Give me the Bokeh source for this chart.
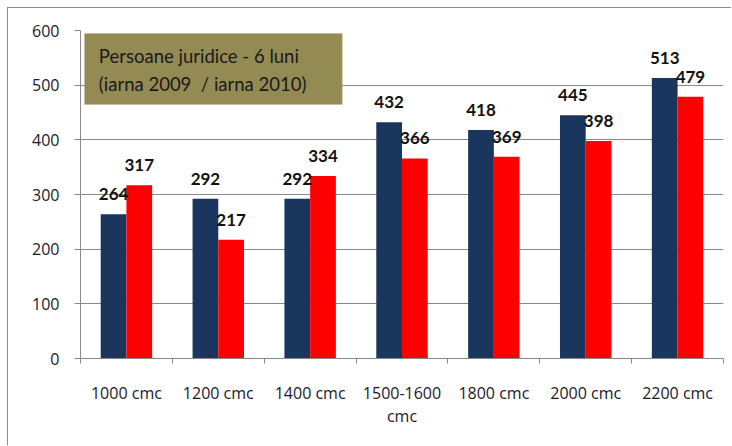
import numpy as np
from bokeh.plotting import figure
from bokeh.models import (ColumnDataSource, Range1d, FixedTicker, BoxAnnotation, Label)
from bokeh.core.properties import value
from bokeh.embed import file_html
from bokeh.resources import INLINE

categories = ["1000 cmc", "1200 cmc", "1400 cmc", "1500-1600\ncmc", "1800 cmc", "2000 cmc", "2200 cmc"]
iarna_2009 = [264, 292, 292, 432, 418, 445, 513]
iarna_2010 = [317, 217, 334, 366, 369, 398, 479]
y_ticks = [0, 100, 200, 300, 400, 500, 600]
title_lines = ["Persoane juridice - 6 luni", "(iarna 2009\u00a0\u00a0/ iarna 2010)"]

FONT = "Lato"
TICK_FONT = "Open Sans"
NAVY = "#1B365D"
RED = "#FF0000"
GRID = "#898989"

centers = np.arange(len(categories)) + 0.5
bw = 0.28
src = ColumnDataSource(dict(
    x1=centers - bw / 2, x2=centers + bw / 2,
    v1=iarna_2009, v2=iarna_2010,
    t1=[str(v) for v in iarna_2009], t2=[str(v) for v in iarna_2010],
))

p = figure(width=724, height=438, output_backend="svg", toolbar_location=None,
           x_range=Range1d(0, len(categories)), y_range=Range1d(0, 600),
           min_border_left=72, min_border_right=9, min_border_top=22, min_border_bottom=88)
p.styles = {"margin-left": "7px", "margin-top": "7px",
            "border-left": "1px solid #8c8c8c", "border-top": "1px solid #8c8c8c"}
p.outline_line_color = None
p.background_fill_color = "white"
p.border_fill_color = "white"

p.vbar(x="x1", top="v1", width=bw, source=src, fill_color=NAVY, line_color=None)
p.vbar(x="x2", top="v2", width=bw, source=src, fill_color=RED, line_color=None)

p.text(x="x1", y="v1", text="t1", source=src, text_font=value(FONT), text_font_style="bold",
       text_font_size="17px", text_align="center", text_baseline="middle", y_offset=-20,
       text_color="#111111")
p.text(x="x2", y="v2", text="t2", source=src, text_font=value(FONT), text_font_style="bold",
       text_font_size="17px", text_align="center", text_baseline="middle", y_offset=-20,
       text_color="#111111")

# axes
p.xgrid.visible = False
p.ygrid.grid_line_color = GRID
p.ygrid.grid_line_width = 1
p.yaxis.ticker = FixedTicker(ticks=y_ticks)
p.yaxis.axis_line_color = GRID
p.yaxis.major_tick_line_color = GRID
p.yaxis.major_tick_out = 6
p.yaxis.major_tick_in = 0
p.yaxis.minor_tick_line_color = None
p.yaxis.major_label_standoff = 15
p.yaxis.major_label_text_font = TICK_FONT
p.yaxis.major_label_text_font_size = "16px"
p.yaxis.major_label_text_color = "#1a1a2a"

p.xaxis.ticker = FixedTicker(ticks=list(centers), minor_ticks=list(range(len(categories) + 1)))
p.xaxis.major_label_overrides = {float(c): lab for c, lab in zip(centers, categories)}
p.xaxis.axis_line_color = GRID
p.xaxis.major_tick_line_color = None
p.xaxis.major_tick_out = 0
p.xaxis.major_tick_in = 0
p.xaxis.minor_tick_line_color = GRID
p.xaxis.minor_tick_out = 5
p.xaxis.minor_tick_in = 0
p.xaxis.major_label_standoff = 18
p.xaxis.major_label_text_font = TICK_FONT
p.xaxis.major_label_text_font_size = "16px"
p.xaxis.major_label_text_color = "#1a1a2a"
p.xaxis.major_label_text_line_height = 1.08

# title box
p.add_layout(BoxAnnotation(left=0.044, right=2.85, bottom=464.6, top=594.5,
                           fill_color="#948A54", fill_alpha=1.0,
                           line_color="#B5AE86", line_width=1))
p.add_layout(Label(x=0.2, y=554, text=title_lines[0], text_font=FONT, text_font_size="18.5px",
                   text_color="#1a1a1a", text_baseline="middle"))
p.add_layout(Label(x=0.2, y=503, text=title_lines[1], text_font=FONT, text_font_size="18.5px",
                   text_color="#1a1a1a", text_baseline="middle"))

open("out.html", "w").write(file_html(p, INLINE))
